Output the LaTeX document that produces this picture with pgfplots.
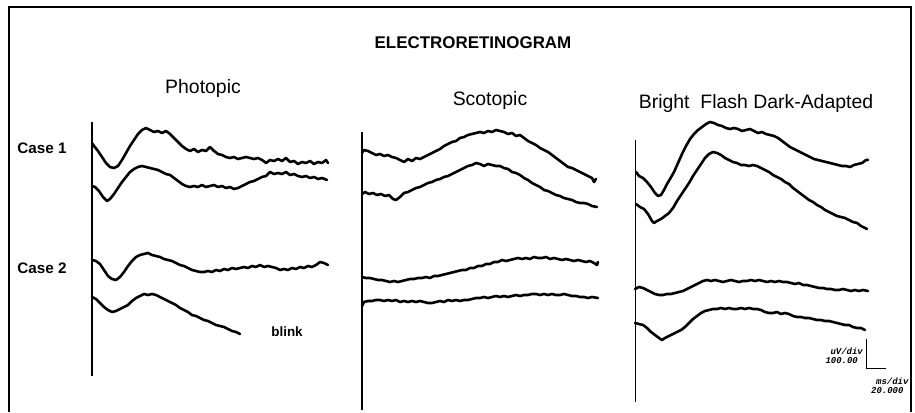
\documentclass[border=0pt]{standalone}
\usepackage{pgfplots}
\pgfplotsset{compat=1.18}
\usepackage{fontspec}
\setmainfont{Liberation Sans}
\newfontfamily\monofont{Liberation Mono}
\begin{document}
\begin{tikzpicture}
\begin{axis}[
  width=915bp, height=413bp, scale only axis,
  xmin=0, xmax=915, ymin=0, ymax=413, y dir=reverse,
  hide axis, clip=false,
  trace/.style={black, line width=2.6bp, line join=round, line cap=round, mark=none},
  rule/.style={black, line width=1.7bp, mark=none},
]
\draw[draw=none] (rel axis cs:0,0) rectangle (rel axis cs:1,1);
% frame
\addplot[rule, line width=1.3bp, line join=miter] coordinates {(9,412) (9,7) (911,7) (911,412)};
% vertical axes
\addplot[rule] coordinates {(91.7,122) (91.7,376)};
\addplot[rule] coordinates {(361.7,132) (361.7,410)};
\addplot[rule] coordinates {(635.5,140) (635.5,402)};
% scale bar
\addplot[rule, line width=1.3bp, line join=miter] coordinates {(866.7,339) (866.7,368.3) (886,368.3)};

% Photopic case 1 top
\addplot[trace] coordinates {(92,143) (94,146) (98,151) (102,157) (106,163) (110,167) (114,168) (118,166) (122,160) (126,153) (130,146) (134,140) (138,134) (142,130) (146,128) (150,130) (154,132) (158,131) (162,133) (166,131) (170,134) (174,138) (178,142) (182,146) (186,149) (190,151) (194,149) (198,152) (202,150) (206,151) (210,147) (214,151) (218,154) (222,155) (226,157) (230,158) (234,157) (238,159) (242,158) (246,157) (250,158) (254,159) (258,158) (262,160) (266,163) (270,160) (274,161) (278,159) (282,161) (286,158) (290,162) (294,161) (298,164) (302,162) (306,163) (310,161) (314,164) (318,162) (322,163) (326,160) (328,163)};
% Photopic case 1 bottom
\addplot[trace] coordinates {(92,186) (95,187) (99,191) (103,197) (107,201) (110,199) (114,194) (118,188) (122,182) (126,177) (130,172) (134,169) (138,167) (142,166) (146,167) (150,168) (154,169) (158,170) (162,172) (166,174) (170,175) (174,178) (178,181) (182,184) (186,186) (190,187) (194,186) (198,187) (202,185) (206,187) (210,186) (214,185) (218,187) (222,186) (226,188) (230,187) (234,189) (238,188) (242,186) (246,184) (250,182) (254,181) (258,179) (262,177) (266,176) (270,172) (274,174) (278,173) (282,174) (286,172) (290,175) (294,174) (298,176) (302,177) (306,176) (310,178) (314,177) (318,179) (322,178) (327,180)};
% Photopic case 2 top
\addplot[trace] coordinates {(92,260) (96,261) (100,264) (104,270) (108,276) (112,279) (116,280) (120,277) (124,272) (128,266) (132,261) (136,257) (140,255) (144,254) (148,253) (152,255) (156,256) (160,257) (164,259) (168,260) (172,261) (176,263) (180,265) (184,266) (188,268) (192,270) (196,271) (200,272) (204,272) (208,271) (212,272) (216,270) (220,271) (224,269) (228,270) (232,268) (236,269) (240,268) (244,267) (248,268) (252,266) (256,267) (260,265) (264,267) (268,266) (272,267) (276,268) (280,270) (284,269) (288,270) (292,268) (296,269) (300,267) (304,268) (308,266) (312,267) (316,265) (320,262) (324,263) (328,265)};
% Photopic case 2 bottom
\addplot[trace] coordinates {(92,297) (96,299) (100,303) (104,307) (108,310) (112,312) (116,311) (120,309) (124,307) (128,305) (132,301) (136,298) (140,296) (144,294) (148,295) (152,294) (156,295) (160,297) (164,299) (168,301) (172,303) (176,305) (180,308) (184,310) (188,312) (192,315) (196,316) (200,318) (204,320) (208,321) (212,323) (216,325) (220,326) (224,327) (228,329) (232,331) (236,332) (240,334)};

% Scotopic case 1 top
\addplot[trace] coordinates {(362,153) (364,150) (368,151) (372,153) (376,155) (380,154) (384,156) (388,155) (392,157) (396,158) (400,160) (404,162) (408,159) (412,161) (416,158) (420,159) (424,157) (428,155) (432,153) (436,151) (440,149) (444,146) (448,144) (452,142) (456,141) (460,138) (464,137) (468,135) (472,134) (476,133) (480,132) (484,133) (488,131) (492,132) (496,130) (500,131) (504,132) (508,134) (512,133) (516,136) (520,135) (524,138) (528,141) (532,143) (536,145) (540,148) (544,150) (548,152) (552,155) (556,158) (560,161) (564,164) (568,167) (572,168) (576,170) (580,172) (584,174) (588,176) (592,178) (594,182) (596,179)};
% Scotopic case 1 bottom
\addplot[trace] coordinates {(362,194) (365,192) (369,194) (373,193) (377,195) (381,194) (385,196) (389,195) (393,199) (396,200) (400,197) (404,193) (408,192) (412,190) (416,188) (420,187) (424,185) (428,183) (432,182) (436,180) (440,179) (444,177) (448,176) (452,174) (456,172) (460,170) (464,168) (468,166) (472,165) (476,163) (480,164) (484,166) (488,164) (492,165) (496,166) (500,166) (504,168) (508,169) (512,172) (516,173) (520,175) (524,178) (528,180) (532,183) (536,185) (540,187) (544,190) (548,191) (552,193) (556,195) (560,196) (564,198) (568,199) (572,200) (576,202) (580,203) (584,203) (588,204) (592,206) (597,207)};
% Scotopic case 2 top
\addplot[trace] coordinates {(362,277) (366,278) (370,278) (374,279) (378,280) (382,280) (386,281) (390,282) (394,281) (398,282) (402,281) (406,280) (410,279) (414,279) (418,278) (422,278) (426,277) (430,278) (434,276) (438,276) (442,275) (446,274) (450,273) (454,272) (458,271) (462,270) (466,270) (470,268) (474,268) (478,266) (482,266) (486,264) (490,264) (494,262) (498,262) (502,260) (506,261) (510,260) (514,259) (518,258) (522,259) (526,258) (530,259) (534,257) (538,258) (542,258) (546,257) (550,259) (554,258) (558,259) (562,260) (566,259) (570,260) (574,261) (578,260) (582,261) (586,262) (590,261) (594,263) (597,265) (598,262)};
% Scotopic case 2 bottom
\addplot[trace] coordinates {(362,306) (364,302) (368,301) (372,301) (376,300) (380,300) (384,301) (388,300) (392,301) (396,300) (400,302) (404,301) (408,302) (412,301) (416,302) (420,301) (424,302) (428,303) (432,303) (436,302) (440,301) (444,302) (448,300) (452,301) (456,300) (460,301) (464,300) (468,300) (472,299) (476,298) (480,298) (484,297) (488,298) (492,297) (496,296) (500,297) (504,296) (508,297) (512,296) (516,295) (520,296) (524,295) (528,295) (532,294) (536,294) (540,295) (544,294) (548,295) (552,294) (556,295) (560,295) (564,294) (568,295) (572,296) (576,296) (580,297) (584,297) (588,298) (592,297) (598,298)};

% Bright case 1 top
\addplot[trace] coordinates {(636,172) (639,176) (643,178) (647,182) (651,187) (655,193) (658,196) (661,195) (664,190) (667,184) (670,179) (674,172) (678,163) (682,154) (686,146) (690,139) (694,134) (698,130) (702,127) (706,124) (710,122) (714,123) (718,125) (722,126) (726,128) (730,129) (734,128) (738,129) (742,131) (746,130) (750,129) (754,131) (758,133) (762,132) (766,134) (770,135) (774,136) (778,138) (782,141) (786,144) (790,147) (794,149) (798,151) (802,153) (806,155) (810,157) (814,159) (818,160) (822,161) (826,162) (830,163) (834,164) (838,165) (842,166) (846,166) (850,167) (854,165) (858,164) (862,163) (866,160) (868,160)};
% Bright case 1 bottom
\addplot[trace] coordinates {(636,204) (640,207) (644,209) (648,214) (652,221) (654,223) (657,221) (661,219) (665,216) (669,213) (673,208) (677,201) (681,195) (685,189) (689,183) (693,176) (697,170) (701,164) (705,158) (709,154) (713,152) (717,153) (721,155) (725,158) (729,160) (733,162) (737,163) (741,165) (745,165) (749,166) (753,165) (757,166) (761,168) (765,170) (769,172) (773,175) (777,177) (781,179) (785,182) (789,184) (793,188) (797,191) (801,194) (805,197) (809,200) (813,202) (817,205) (821,207) (825,210) (829,212) (833,214) (837,216) (841,217) (845,218) (849,220) (853,222) (857,223) (861,226) (865,228) (867,229)};
% Bright case 2 top
\addplot[trace] coordinates {(635,289) (639,287) (643,288) (647,290) (651,292) (655,294) (659,295) (663,295) (667,294) (671,294) (675,293) (679,292) (683,291) (687,289) (691,287) (695,285) (699,283) (703,281) (707,280) (711,281) (715,280) (719,281) (723,282) (727,281) (731,280) (735,281) (739,282) (743,281) (747,281) (751,280) (755,281) (759,280) (763,281) (767,282) (771,281) (775,282) (779,281) (783,282) (787,282) (791,283) (795,284) (799,283) (803,285) (807,285) (811,286) (815,287) (819,288) (823,288) (827,289) (831,289) (835,290) (839,290) (843,289) (847,290) (851,291) (855,290) (859,291) (863,290) (868,291)};
% Bright case 2 bottom
\addplot[trace] coordinates {(635,323) (639,324) (643,325) (647,328) (651,332) (655,335) (659,338) (662,340) (665,338) (669,336) (673,334) (677,332) (681,330) (685,327) (689,323) (693,319) (697,316) (701,313) (705,311) (709,310) (713,309) (717,309) (721,308) (725,309) (729,308) (733,309) (737,309) (741,308) (745,309) (749,308) (753,309) (757,309) (761,310) (765,312) (769,313) (773,313) (777,312) (781,314) (785,313) (789,314) (793,316) (797,317) (801,317) (805,318) (809,318) (813,319) (817,320) (821,320) (825,321) (829,321) (833,322) (837,323) (841,324) (845,325) (849,325) (853,327) (857,328) (861,328) (865,330)};

% texts
\node[font=\bfseries\fontsize{17}{17}\selectfont] at (axis cs:473,43) {ELECTRORETINOGRAM};
\node[font=\fontsize{19.5}{19.5}\selectfont] at (axis cs:203,88) {Photopic};
\node[font=\fontsize{19.5}{19.5}\selectfont] at (axis cs:490,100) {Scotopic};
\node[font=\fontsize{19.5}{19.5}\selectfont] at (axis cs:756,103) {Bright\ \ Flash\ Dark-Adapted};
\node[font=\bfseries\fontsize{15.3}{15.3}\selectfont] at (axis cs:42,148) {Case 1};
\node[font=\bfseries\fontsize{15.3}{15.3}\selectfont] at (axis cs:42,268) {Case 2};
\node[font=\bfseries\fontsize{13.5}{13.5}\selectfont] at (axis cs:287,332) {blink};
\node[font=\monofont\bfseries\itshape\fontsize{9}{9}\selectfont, anchor=east, inner sep=0pt] at (axis cs:863,351) {uV/div};
\node[font=\monofont\bfseries\itshape\fontsize{9}{9}\selectfont, anchor=east, inner sep=0pt] at (axis cs:858,361) {100.00};
\node[font=\monofont\bfseries\itshape\fontsize{9}{9}\selectfont, anchor=west, inner sep=0pt] at (axis cs:876,381) {ms/div};
\node[font=\monofont\bfseries\itshape\fontsize{9}{9}\selectfont, anchor=west, inner sep=0pt] at (axis cs:871,391) {20.000};
\end{axis}
\end{tikzpicture}
\end{document}
